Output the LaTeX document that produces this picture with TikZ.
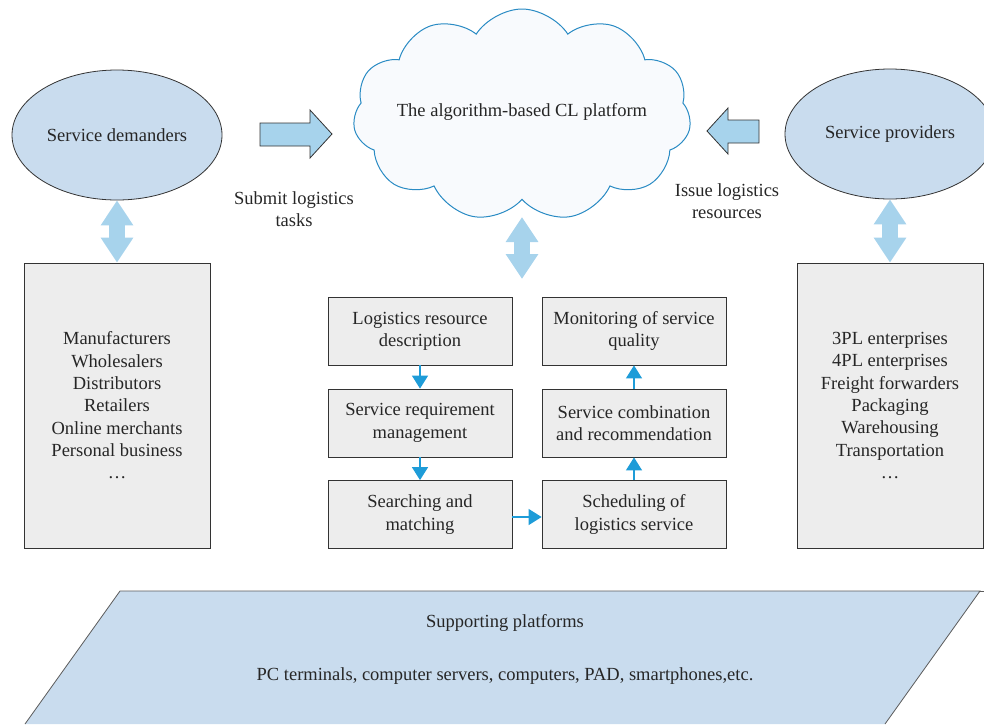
\documentclass[tikz,border=0pt]{standalone}
\usepackage{fontspec}
\setmainfont{Liberation Serif}
\usetikzlibrary{arrows.meta,shapes.geometric,shapes.symbols}
\definecolor{ellfill}{HTML}{C9DCEE}
\definecolor{bigarrow}{HTML}{A7D3EC}
\definecolor{boxfill}{HTML}{EDEDED}
\definecolor{cloudline}{HTML}{2A8BC4}
\definecolor{cloudfill}{HTML}{F8FAFD}
\definecolor{flow}{HTML}{1E9CD8}
\definecolor{edge}{HTML}{333333}
\tikzset{
  txt/.style={font=\fontsize{18.5}{22.3}\selectfont, text=black!85},
  actor/.style={ellipse, draw=edge, line width=0.8pt, fill=ellfill, minimum width=210pt, minimum height=130pt, txt},
  listbox/.style={draw=edge, line width=0.8pt, fill=boxfill, minimum width=186pt, minimum height=285pt, align=center, txt},
  stepbox/.style={draw=edge, line width=0.8pt, fill=boxfill, minimum width=184pt, minimum height=68pt, align=center, inner sep=1pt, txt},
  dbl/.style={draw=bigarrow, line width=16pt, {Triangle[length=25pt,width=31pt]}-{Triangle[length=25pt,width=31pt]}},
  flowarrow/.style={draw=flow, line width=1.3pt, -{Triangle[length=13pt,width=16pt]}},
  blockarrow/.style={draw=black!80, line width=0.8pt, fill=bigarrow, line join=miter},
}
\begin{document}
\begin{tikzpicture}[x=1pt,y=-1pt]
\useasboundingbox (0,0) rectangle (984,724);
% supporting platforms
\path[fill=ellfill, draw=edge!80, line width=0.8pt] (25,724) -- (120,591) -- (980,591) -- (885,724);
\draw[edge!80, line width=0.8pt] (980,591) -- (984,591);
\node[txt] (sup) at (505,623) {Supporting platforms};
\node[txt] (dev) at (505,676) {PC terminals, computer servers, computers, PAD, smartphones,etc.};
% cloud
\node[cloud, cloud puffs=11, cloud puff arc=115, aspect=1.6, draw=cloudline, line width=1pt, fill=cloudfill, minimum width=338pt, minimum height=212pt, txt] (cl) at (522,115) {};
\node[txt] (cltext) at (522,112) {The algorithm-based CL platform};
% actors
\node[actor] (dem) at (117,135) {Service demanders};
\node[actor] (pro) at (890,134) {Service providers};
% list boxes
\node[listbox] (lbox) at (117,405.5) {Manufacturers\\Wholesalers\\Distributors\\Retailers\\Online merchants\\Personal business\\…};
\node[listbox] (rbox) at (890,405.5) {3PL enterprises\\4PL enterprises\\Freight forwarders\\Packaging\\Warehousing\\Transportation\\…};
% double arrows
\draw[dbl] (dem.south) -- (lbox.north);
\draw[dbl] (pro.south) -- (rbox.north);
\coordinate (cbot) at (522,217);
\coordinate (ctop) at (522,279);
\draw[dbl] (cbot) -- (ctop);
% block arrows
\draw[blockarrow] (260,123) -- (310,123) -- (310,110) -- (332,134) -- (310,158) -- (310,146) -- (260,146) -- cycle;
\draw[blockarrow] (759,120) -- (728,120) -- (728,108) -- (707,131) -- (728,154) -- (728,143) -- (759,143) -- cycle;
\node[txt, align=center] (sub) at (294,209) {Submit logistics\\tasks};
\node[txt, align=center] (iss) at (727,201) {Issue logistics\\resources};
% step boxes
\node[stepbox] (s1) at (420,331) {Logistics resource\\description};
\node[stepbox] (s2) at (420,423) {Service requirement\\management};
\node[stepbox] (s3) at (420,514.5) {Searching and\\matching};
\node[stepbox] (s4) at (634,514.5) {Scheduling of\\logistics service};
\node[stepbox] (s5) at (634,423) {Service combination\\and recommendation};
\node[stepbox] (s6) at (634,331) {Monitoring of service\\quality};
\draw[flowarrow] (s1) -- (s2);
\draw[flowarrow] (s2) -- (s3);
\draw[flowarrow] (s3.east |- 0,517) -- (s4.west |- 0,517);
\draw[flowarrow] (s4) -- (s5);
\draw[flowarrow] (s5) -- (s6);
\end{tikzpicture}
\end{document}
